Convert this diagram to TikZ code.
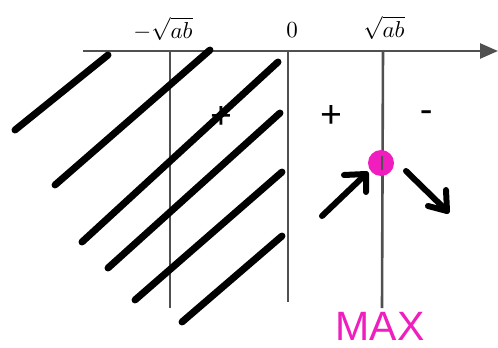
\documentclass[tikz,border=0pt]{standalone}
\usepackage{fontspec}
\setsansfont{Liberation Sans}
\newfontfamily\signfont{Carlito}
\usetikzlibrary{arrows.meta}
\definecolor{axisgray}{HTML}{505050}
\definecolor{maxpink}{HTML}{F01EBE}
\newcommand{\biglab}[1]{\scalebox{2.3}{#1}}
\begin{document}
\begin{tikzpicture}[x=1pt,y=-1pt,
  axisline/.style={draw=axisgray,line width=2.6pt},
  hatch/.style={draw=black,line width=7pt,line cap=round},
  penarrow/.style={draw=black,line width=6pt,line cap=round,line join=round},
  toplabel/.style={inner sep=0pt},
  signlabel/.style={font=\signfont\fontsize{40}{40}\selectfont,inner sep=0pt}]
\useasboundingbox (0,0) rectangle (498,348);
% axis
\coordinate (axL) at (83,51);
\coordinate (axR) at (498,51);
\draw[axisline,-{Triangle[length=18pt,width=15pt]}] (axL) -- (axR);
% vertical lines
\coordinate (v1t) at (170,51); \coordinate (v1b) at (170,308);
\coordinate (v2t) at (288,51); \coordinate (v2b) at (288,302);
\coordinate (v3t) at (383,51); \coordinate (v3b) at (382,308);
\draw[axisline] (v1t) -- (v1b);
\draw[axisline] (v2t) -- (v2b);
\draw[axisline] (v3t) -- (v3b);
% labels
\node[toplabel] (lm) at (163,29) {\biglab{$-\sqrt{ab}$}};
\node[toplabel] (l0) at (292,30) {\biglab{$0$}};
\node[toplabel] (lp) at (384,28) {\biglab{$\sqrt{ab}$}};
\node[signlabel] (s1) at (221,118) {+};
\node[signlabel] (s2) at (331,117) {+};
\node[signlabel] (s3) at (427,117) {-};
% hatching
\draw[hatch] (15,130) -- (108,55);
\draw[hatch] (55,185) -- (210,50);
\draw[hatch] (82,242) -- (278,62);
\draw[hatch] (108,268) -- (280,113);
\draw[hatch] (135,300) -- (282,172);
\draw[hatch] (182,322) -- (282,236);
% max point
\node[circle,fill=maxpink,minimum width=26pt,minimum height=23pt,inner sep=0pt] (mx) at (381,163) {};
\draw[axisline] (382,156) -- (382,170);
% arrows
\coordinate (a1s) at (322,216); \coordinate (a1t) at (366,174);
\draw[penarrow] (a1s) -- (a1t);
\draw[penarrow] (344,175) -- (a1t) -- (366,192);
\coordinate (a2s) at (406,171); \coordinate (a2t) at (447,211);
\draw[penarrow] (a2s) -- (a2t);
\draw[penarrow] (446,190) -- (a2t) -- (428,206);
% MAX
\node[font=\sffamily\fontsize{41}{41}\selectfont,text=maxpink,inner sep=0pt] (maxl) at (380,326) {MAX};
\end{tikzpicture}
\end{document}
